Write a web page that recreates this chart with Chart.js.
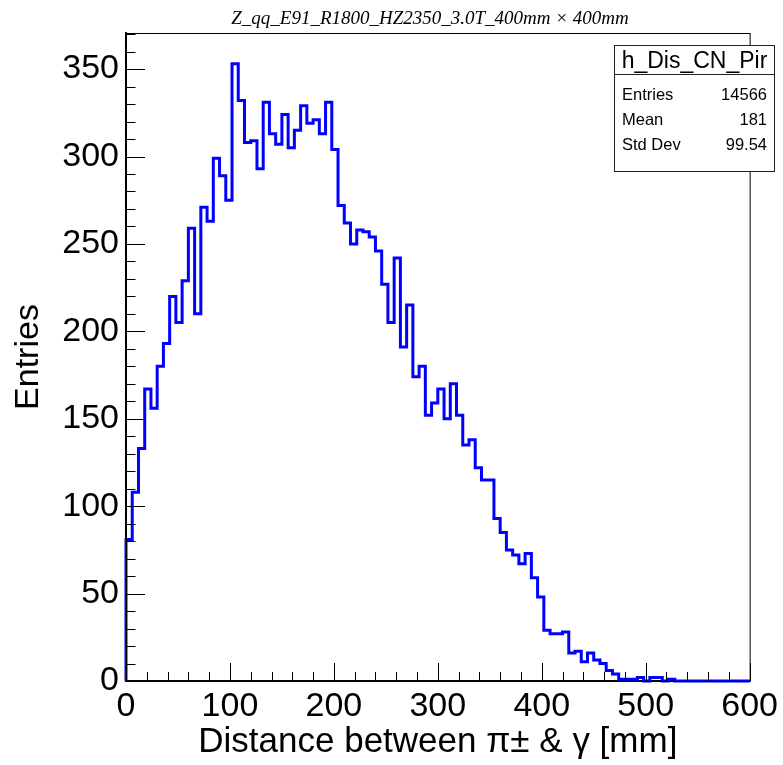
<!DOCTYPE html>
<html><head><meta charset="utf-8">
<script src="https://cdn.jsdelivr.net/npm/chart.js@4/dist/chart.umd.min.js"></script>
<style>html,body{margin:0;padding:0;background:#fff;}canvas{display:block;}</style>
</head><body>
<canvas id="c" width="783" height="765"></canvas>
<script>
// ---- data ----
const histTitle = "Z_qq_E91_R1800_HZ2350_3.0T_400mm \u00d7 400mm";
const histName = "h_Dis_CN_Pir";
const statLabels = ["Entries", "Mean", "Std Dev"];
const statValues = ["14566", "181", "99.54"];
const xAxisTitle = "Distance between \u03c0\u00b1 & \u03b3 [mm]";
const yAxisTitle = "Entries";
const xMin = 0, xMax = 600, binWidth = 6;
const yMax = 370.65;
const xTickValues = [0, 100, 200, 300, 400, 500, 600];
const yTickValues = [0, 50, 100, 150, 200, 250, 300, 350];
const counts = [
  81, 108, 133, 167, 156, 180, 193, 220, 205, 229,
  259, 210, 271, 263, 299, 289, 275, 353, 332, 308,
  309, 293, 331, 313, 307, 324, 305, 315, 329, 319,
  321, 313, 331, 304, 272, 262, 250, 258, 257, 254,
  246, 227, 205, 242, 191, 215, 174, 180, 152, 159,
  167, 150, 170, 152, 135, 138, 122, 115, 115, 93,
  85, 75, 72, 67, 73, 59, 48, 29, 27, 27,
  28, 16, 17, 11, 16, 12, 10, 6, 4, 1,
  1, 1, 2, 0, 2, 2, 0, 1, 0, 0,
  0, 0, 0, 0, 0, 0, 0, 0, 0, 0
];

// step outline points built from the bin contents
const points = [{x: xMin, y: 0}];
counts.forEach((c, i) => points.push({x: xMin + i * binWidth, y: c}));
points.push({x: xMax, y: counts[counts.length - 1]});
points.push({x: xMax, y: 0});

const FONT = "'Liberation Sans', Helvetica, Arial, sans-serif";

const rootDecor = {
  id: 'rootDecor',
  afterDraw(chart) {
    const {ctx, chartArea: a, scales: {x, y}} = chart;
    ctx.save();
    // frame
    ctx.strokeStyle = '#000';
    ctx.lineWidth = 1;
    ctx.strokeRect(a.left + 0.5, a.top + 0.5, a.right - a.left, a.bottom - a.top);
    // tick marks (major + minor), pointing inward
    ctx.beginPath();
    for (let v = xMin; v <= xMax; v += 20) {
      const px = Math.round(x.getPixelForValue(v)) + 0.5;
      const len = (v % 100 === 0) ? 18 : 9;
      ctx.moveTo(px, a.bottom);
      ctx.lineTo(px, a.bottom - len);
    }
    for (let v = 0; v <= y.max; v += 10) {
      const py = Math.round(y.getPixelForValue(v)) + 0.5;
      const len = (v % 50 === 0) ? 19 : 9.5;
      ctx.moveTo(a.left, py);
      ctx.lineTo(a.left + len, py);
    }
    ctx.stroke();
    // title
    ctx.fillStyle = '#000';
    ctx.font = "italic 19px 'Liberation Serif', 'Times New Roman', serif";
    ctx.textAlign = 'center';
    ctx.textBaseline = 'alphabetic';
    ctx.fillText(histTitle, 430, 24);
    // stats box
    const bx = 614.5, by = 45.5, bw = 160, bh = 126;
    ctx.fillStyle = '#fff';
    ctx.fillRect(bx, by, bw, bh);
    ctx.strokeStyle = '#222';
    ctx.lineWidth = 1;
    ctx.strokeRect(bx, by, bw, bh);
    ctx.beginPath();
    ctx.moveTo(bx, 74.5); ctx.lineTo(bx + bw, 74.5);
    ctx.stroke();
    ctx.fillStyle = '#000';
    ctx.font = "23px " + FONT;
    ctx.textAlign = 'center';
    ctx.fillText(histName, bx + bw / 2, 68);
    ctx.font = "16.5px " + FONT;
    const baselines = [100, 125, 150];
    statLabels.forEach((lab, i) => {
      ctx.textAlign = 'left';
      ctx.fillText(lab, 622, baselines[i]);
      ctx.textAlign = 'right';
      ctx.fillText(statValues[i], 767, baselines[i]);
    });
    ctx.restore();
  }
};

new Chart(document.getElementById('c'), {
  type: 'line',
  data: {
    datasets: [{
      data: points,
      stepped: 'before',
      borderColor: '#0000ff',
      borderWidth: 3,
      pointRadius: 0,
      fill: false,
      tension: 0,
      clip: false
    }]
  },
  options: {
    responsive: false,
    animation: false,
    devicePixelRatio: 1,
    layout: {padding: {top: 33, right: 33, left: 0, bottom: 0}},
    plugins: {legend: {display: false}, tooltip: {enabled: false}, title: {display: false}},
    scales: {
      x: {
        type: 'linear', min: xMin, max: xMax,
        afterBuildTicks: s => { s.ticks = xTickValues.map(v => ({value: v})); },
        afterFit: s => { s.height = 84; },
        ticks: {color: '#000', font: {family: FONT, size: 34}, padding: 5, maxRotation: 0, autoSkip: false},
        grid: {drawOnChartArea: false, drawTicks: false},
        border: {display: true, color: '#000', width: 2},
        title: {display: true, text: xAxisTitle, color: '#000', font: {family: FONT, size: 35}, padding: {top: 0, bottom: 2}}
      },
      y: {
        type: 'linear', min: 0, max: yMax,
        afterBuildTicks: s => { s.ticks = yTickValues.map(v => ({value: v})); },
        afterFit: s => { s.width = 126; },
        ticks: {color: '#000', font: {family: FONT, size: 34}, padding: 7, autoSkip: false},
        grid: {drawOnChartArea: false, drawTicks: false},
        border: {display: true, color: '#000', width: 2},
        title: {display: true, text: yAxisTitle, color: '#000', font: {family: FONT, size: 34}, padding: {top: 8, bottom: 0}}
      }
    }
  },
  plugins: [rootDecor]
});
</script>
</body></html>
